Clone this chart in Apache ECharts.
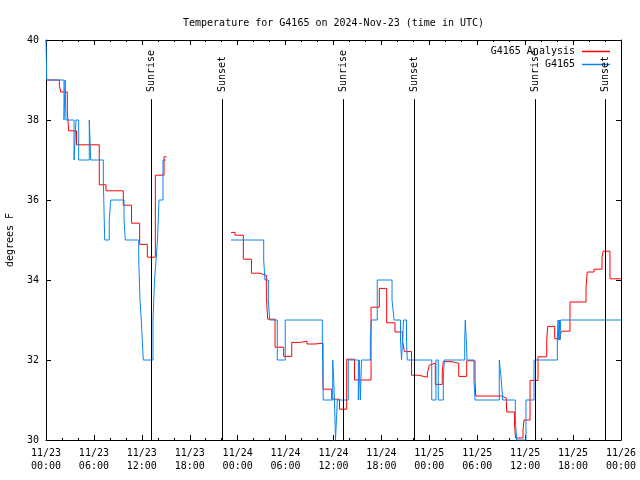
<!DOCTYPE html>
<html><head><meta charset="utf-8">
<script src="https://cdn.jsdelivr.net/npm/echarts@6/dist/echarts.min.js"></script>
<style>html,body{margin:0;padding:0;background:#fff}#c{width:640px;height:480px}</style>
</head><body><div id="c"></div>
<script>
const titleText = 'Temperature for G4165 on 2024-Nov-23 (time in UTC)';
const seriesNames = ['G4165 Analysis', 'G4165'];
const yAxisName = 'degrees F';

// hours since 11/23 00:00 UTC; null marks a data gap
const redHours = [0.00, 1.67, 1.84, 2.67, 2.84, 3.82, 6.67, 7.51, 9.68, 10.71, 11.73, 12.69, 13.69, 14.78, 15.09,
  null,
  23.17, 23.67, 24.71, 25.73, 26.70, 27.59, 27.76, 28.68, 29.76, 30.77, 31.84, 32.68, 33.68, 34.69, 35.77, 36.75,
  37.65, 38.63, 40.70, 41.74, 42.66, 43.70, 44.67, 44.87, 45.77, 46.62, 47.75, 48.00, 48.17, 48.75, 49.62, 49.75,
  50.71, 51.68, 52.68, 53.72, 53.81, 57.04, 57.64, 57.69, 58.67, 58.79, 59.73, 59.85, 60.61, 61.61, 62.70, 62.82,
  63.70, 64.40, 64.61, 65.61, 67.62, 67.77, 68.62, 69.62, 69.78, 70.62, 72.00];
const redTemps = [39.00, 38.87, 38.70, 38.20, 37.73, 37.38, 36.38, 36.23, 35.87, 35.42, 34.89, 34.57, 36.62, 37.08, 37.08,
  null,
  35.19, 35.12, 34.52, 34.17, 34.12, 33.58, 33.02, 32.32, 32.09, 32.44, 32.47, 32.40, 32.42, 31.27, 31.02, 30.77,
  32.02, 31.50, 33.32, 33.79, 32.93, 32.70, 32.46, 32.21, 31.62, 31.57, 31.67, 31.87, 31.92, 31.39, 31.70, 31.96,
  31.92, 31.59, 31.98, 31.50, 31.10, 31.05, 30.98, 30.70, 30.37, 30.05, 30.25, 30.50, 31.49, 32.08, 32.50, 32.84,
  32.53, 32.64, 32.72, 33.45, 33.82, 34.20, 34.27, 34.57, 34.72, 34.03, 34.03];

const blueHours = [0.00, 0.09, 2.25, 2.40, 2.50, 3.51, 3.76, 4.09, 5.42, 5.60, 7.18, 7.35, 7.92, 8.10, 9.77, 9.93,
  11.61, 11.77, 11.93, 12.18, 13.40, 13.59, 13.78, 13.96, 14.15, 14.65, 15.03,
  null,
  23.17, 27.26, 27.42, 27.84, 28.01, 28.96, 29.96, 34.60, 34.72, 35.90, 36.03, 36.19, 36.25, 36.48, 37.85, 39.11,
  39.23, 39.36, 39.51, 40.61, 40.73, 41.48, 43.33, 43.58, 44.39, 44.52, 44.77, 45.14, 45.24, 48.30, 48.83, 49.12,
  49.75, 49.87, 52.43, 52.50, 52.63, 52.72, 53.59, 53.72, 56.76, 57.01, 57.19, 58.77, 58.94, 60.10, 61.11, 64.03,
  64.12, 64.20, 64.28, 64.36, 64.45, 72.00];
const blueTemps = [40, 39, 38, 39, 38, 37, 38, 37, 38, 37, 36.5, 35, 35.5, 36, 35.5, 35,
  34.5, 33.5, 33, 32, 33, 34, 34.5, 35, 36, 37, 37,
  null,
  35, 34.5, 34, 33.5, 33, 32, 33, 32.5, 31, 32, 31.5, 30.5, 30, 31, 32, 31,
  32, 31, 32, 32.5, 33, 34, 33.5, 33, 32.5, 32, 33, 32.5, 32, 31, 32, 31,
  31.5, 32, 32.5, 33, 32.5, 32, 31.5, 31, 32, 31.5, 31, 30.5, 30, 31, 32, 32.5,
  33, 32.5, 33, 32.5, 33, 33];

const sunNames = ['Sunrise', 'Sunset', 'Sunrise', 'Sunset', 'Sunrise', 'Sunset'];
const sunHours = [13.19, 22.04, 37.25, 46.11, 61.32, 70.09];

const FONT = 'DejaVu Sans Mono';
function toPairs(hs, ts) { return hs.map((h, i) => h === null ? ['-', '-'] : [h, ts[i]]); }
function pad(n) { return (n < 10 ? '0' : '') + n; }

const sunMarks = [];
sunHours.forEach((h, i) => {
  sunMarks.push([{ coord: [h, 30], label: { show: false } }, { coord: [h, 38.52] }]);
  sunMarks.push([{ coord: [h, 38.7], lineStyle: { color: 'rgba(0,0,0,0)', width: 0 },
    label: { show: true, position: 'insideStartTop', formatter: sunNames[i], distance: [0, 0],
      verticalAlign: 'middle', color: '#000', fontFamily: FONT, fontSize: 10 } },
    { coord: [h, 40] }]);
});

const xBase = {
  type: 'value', min: 0, max: 72, interval: 6,
  axisLine: { show: true, onZero: false, lineStyle: { color: '#000', width: 1 } },
  axisTick: { show: true, inside: true, length: 5, lineStyle: { color: '#000' } },
  minorTick: { show: true, splitNumber: 3, length: 2, lineStyle: { color: '#000' } },
  splitLine: { show: false }
};
const yBase = {
  type: 'value', min: 30, max: 40, interval: 2,
  axisLine: { show: true, onZero: false, lineStyle: { color: '#000', width: 1 } },
  axisTick: { show: true, inside: true, length: 5, lineStyle: { color: '#000' } },
  splitLine: { show: false }
};

const chart = echarts.init(document.getElementById('c'), null, { renderer: 'canvas' });
chart.setOption({
  animation: false,
  backgroundColor: '#fff',
  title: { text: titleText, left: 178, top: 13,
    textStyle: { fontFamily: FONT, fontSize: 10, fontWeight: 'normal', color: '#000' } },
  legend: {
    orient: 'vertical', right: 25, top: 41, align: 'right',
    itemWidth: 28, itemHeight: 1.5, itemGap: 2,
    textStyle: { fontFamily: FONT, fontSize: 10, color: '#000', padding: [0, 2, 0, 0], lineHeight: 11 },
    data: seriesNames.map(n => ({ name: n, icon: 'rect' }))
  },
  grid: { left: 46, right: 19, top: 40, bottom: 40, containLabel: false, outerBoundsMode: 'none' },
  xAxis: [
    Object.assign({}, xBase, { position: 'bottom',
      axisLabel: { show: true, margin: 7, color: '#000', fontFamily: FONT, fontSize: 10, lineHeight: 13,
        formatter: v => '11/' + (23 + Math.floor(v / 24)) + '\n' + pad(v % 24) + ':00' } }),
    Object.assign({}, xBase, { position: 'top', axisLabel: { show: false } })
  ],
  yAxis: [
    Object.assign({}, yBase, { position: 'left', name: yAxisName, nameLocation: 'middle', nameGap: 31,
      nameRotate: 90, nameTextStyle: { fontFamily: FONT, fontSize: 10, color: '#000' },
      axisLabel: { show: true, margin: 7, color: '#000', fontFamily: FONT, fontSize: 10 } }),
    Object.assign({}, yBase, { position: 'right', axisLabel: { show: false } })
  ],
  series: [
    { name: seriesNames[0], type: 'line', step: 'end', symbol: 'none', connectNulls: false,
      color: '#ff0000', lineStyle: { width: 1, color: '#ff0000' }, data: toPairs(redHours, redTemps) },
    { name: seriesNames[1], type: 'line', step: 'end', symbol: 'none', connectNulls: false,
      color: '#0a84f5', lineStyle: { width: 1, color: '#0a84f5' }, data: toPairs(blueHours, blueTemps) },
    { name: 'sun', type: 'line', data: [], silent: true,
      markLine: { silent: true, symbol: ['none', 'none'], animation: false,
        lineStyle: { color: '#000', width: 1, type: 'solid' },
        data: sunMarks } }
  ]
});
</script></body></html>
